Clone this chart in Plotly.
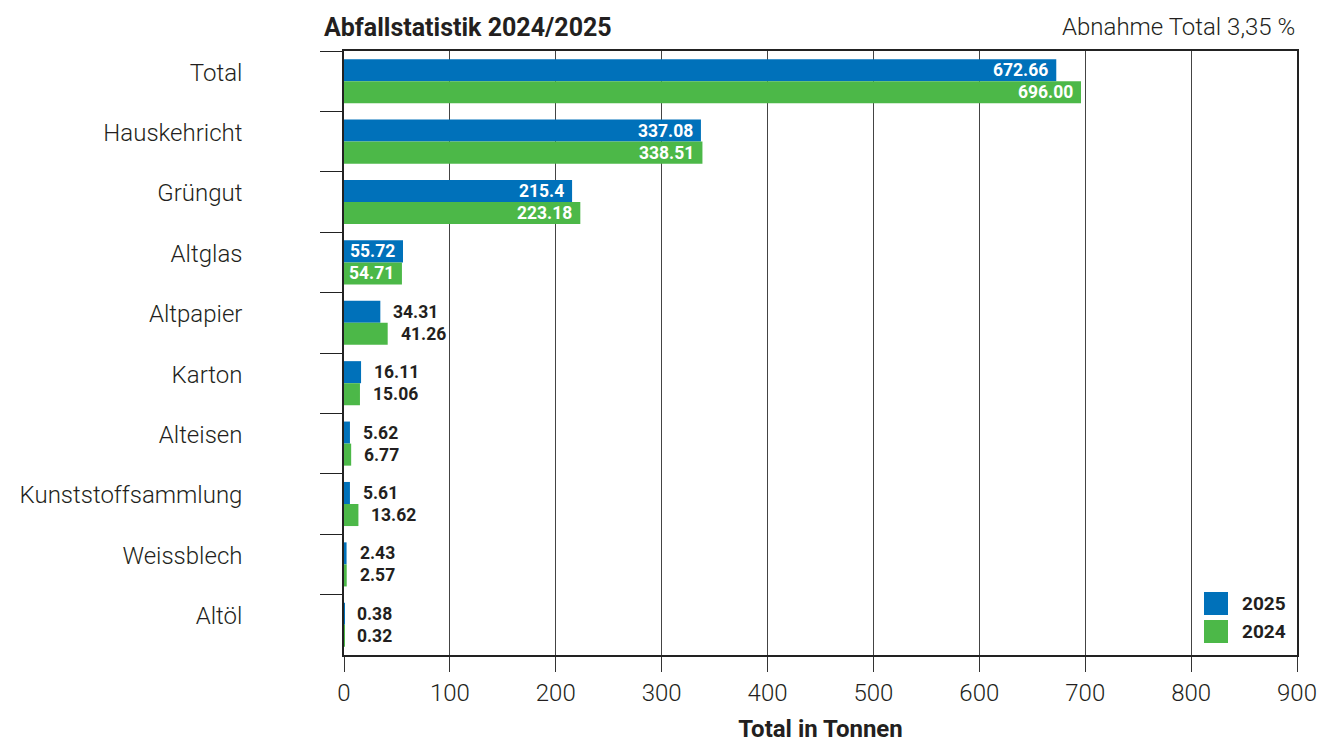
import plotly.graph_objects as go

categories = ["Total", "Hauskehricht", "Grüngut", "Altglas", "Altpapier", "Karton",
              "Alteisen", "Kunststoffsammlung", "Weissblech", "Altöl"]
values_2025 = [672.66, 337.08, 215.4, 55.72, 34.31, 16.11, 5.62, 5.61, 2.43, 0.38]
values_2024 = [696.00, 338.51, 223.18, 54.71, 41.26, 15.06, 6.77, 13.62, 2.57, 0.32]
labels_2025 = ["672.66", "337.08", "215.4", "55.72", "34.31", "16.11", "5.62", "5.61", "2.43", "0.38"]
labels_2024 = ["696.00", "338.51", "223.18", "54.71", "41.26", "15.06", "6.77", "13.62", "2.57", "0.32"]
x_ticks = [0, 100, 200, 300, 400, 500, 600, 700, 800, 900]
series_names = ["2025", "2024"]

BLUE = "#0071BA"
GREEN = "#4CB848"
TXT = "#231F20"
FONT = "Roboto"
BAR_HALF = 11  # px offset of each grouped bar from category centre

fig = go.Figure()
for name, vals, color in [(series_names[0], values_2025, BLUE),
                          (series_names[1], values_2024, GREEN)]:
    fig.add_trace(go.Bar(
        name=name, y=categories, x=vals, orientation="h",
        marker=dict(color=color, line=dict(width=0)),
        showlegend=False, hoverinfo="x+y",
    ))

annotations = []
# value labels
for vals, labels, ysh in [(values_2025, labels_2025, BAR_HALF),
                          (values_2024, labels_2024, -BAR_HALF)]:
    for cat, v, lab in zip(categories, vals, labels):
        inside = v >= 50
        annotations.append(dict(
            x=v, y=cat, xref="x", yref="y", text=lab, showarrow=False,
            xanchor="right" if inside else "left", yanchor="middle",
            xshift=-6 if inside else 11, yshift=ysh,
            font=dict(family=FONT, size=17.5, weight="bold",
                      color="white" if inside else TXT),
        ))

# titles
annotations += [
    dict(text="Abfallstatistik 2024/2025", xref="paper", yref="paper",
         x=-22 / 953, y=1, yshift=24, xanchor="left", yanchor="middle",
         showarrow=False,
         font=dict(family=FONT, size=25, weight="bold", color=TXT)),
    dict(text="Abnahme Total 3,35 %", xref="paper", yref="paper",
         x=1, y=1, yshift=24, xanchor="right", yanchor="middle",
         showarrow=False,
         font=dict(family=FONT, size=24, weight=300, color=TXT)),
]

# legend (drawn as paper-positioned swatches + labels)
shapes = []
for i, (name, color) in enumerate(zip(series_names, [BLUE, GREEN])):
    y_top = 1 - (592 + 28 * i - 51) / 604.0
    y_bot = 1 - (615 + 28 * i - 51) / 604.0
    shapes.append(dict(type="rect", xref="paper", yref="paper",
                       x0=(1204 - 344) / 953, x1=(1228 - 344) / 953,
                       y0=y_bot, y1=y_top, fillcolor=color, line=dict(width=0)))
    annotations.append(dict(text=name, xref="paper", yref="paper",
                            x=(1240 - 344) / 953, y=(y_top + y_bot) / 2,
                            xanchor="left", yanchor="middle", showarrow=False,
                            font=dict(family=FONT, size=19, weight="bold", color=TXT)))

fig.update_layout(
    width=1322, height=743,
    margin=dict(l=344, r=25, t=51, b=88, autoexpand=False),
    paper_bgcolor="white", plot_bgcolor="white",
    barmode="group", bargap=0.27, bargroupgap=0,
    font=dict(family=FONT, color=TXT),
    showlegend=False,
    xaxis=dict(
        range=[0, 900], tickvals=x_ticks, ticks="outside", ticklen=15,
        tickcolor="#333", tickwidth=1.3,
        showgrid=True, gridcolor="#444", gridwidth=1.3,
        showline=True, linecolor="#222", linewidth=1.5, mirror=True,
        zeroline=False, automargin=False,
        tickfont=dict(family=FONT, size=24, weight=300, color=TXT),
        title=dict(text="Total in Tonnen", standoff=17,
                   font=dict(family=FONT, size=24, weight="bold", color=TXT)),
    ),
    yaxis=dict(
        autorange="reversed", type="category",
        ticks="outside", tickson="boundaries", ticklen=22,
        tickcolor="#222", tickwidth=1.3,
        showline=True, linecolor="#222", linewidth=1.5, mirror=True,
        showgrid=False, zeroline=False, automargin=False,
        ticklabelstandoff=95, ticklabelshift=9,
        tickfont=dict(family=FONT, size=24, weight=300, color=TXT),
    ),
    annotations=annotations,
    shapes=shapes,
)

fig.write_html("out.html")
